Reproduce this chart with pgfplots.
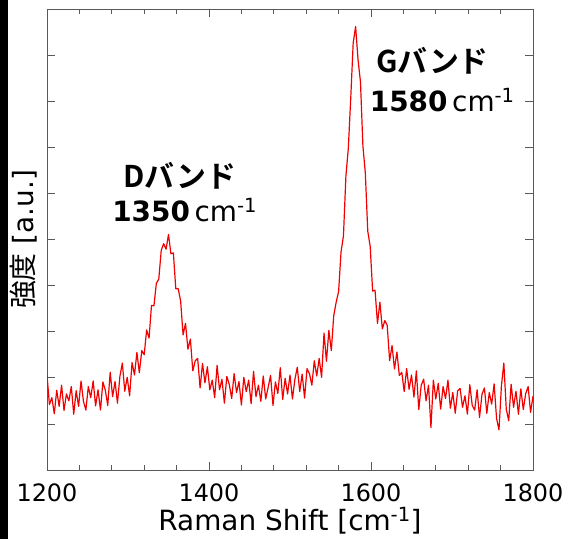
\documentclass[border=0pt]{standalone}
\usepackage{fontspec}
\setmainfont{DejaVu Sans}
\newfontfamily\jp{Noto Sans CJK JP}[BoldFont={Noto Sans CJK JP Bold}]
\usepackage{pgfplots}
\pgfplotsset{compat=1.18}

\begin{document}
\begin{tikzpicture}
\begin{axis}[
  scale only axis,
  width=486bp, height=461bp,
  xmin=1200, xmax=1800, ymin=0, ymax=10,
  xtick={1200,1400,1600,1800},
  minor x tick num=4,
  ytick={1,2,...,9},
  yticklabels={},
  tick align=inside,
  major tick length=8bp, minor tick length=5bp,
  axis line style={draw=black!65, line width=0.9bp},
  every tick/.style={draw=black!65, line width=0.8bp},
  /pgf/number format/assume math mode=true,
  /pgf/number format/1000 sep={},
  xticklabel style={font=\fontsize{24}{24}\selectfont, anchor=base, yshift=-31bp, inner sep=0pt},
  xlabel={Raman Shift [cm\textsuperscript{-1}]},
  xlabel style={font=\fontsize{28}{28}\selectfont, at={(axis description cs:0.5,-0.1323)}, anchor=base, inner sep=0pt},
  ylabel={{\jp 強度} [a.u.]},
  ylabel style={font=\fontsize{28}{28}\selectfont, at={(axis description cs:-0.0206,0.5)}, anchor=south, inner sep=0pt},
]
% Raman spectrum (step 3 cm^-1)
\addplot[color=red!95!black, line width=1.2bp, line join=round] coordinates {
 (1200,2.06)(1203,1.42)(1206,1.57)(1209,1.22)(1212,1.73)
 (1215,1.38)(1218,1.84)(1221,1.29)(1224,1.65)(1227,1.50)
 (1230,1.81)(1233,1.21)(1236,1.72)(1239,1.38)(1242,1.93)
 (1245,1.49)(1248,1.30)(1251,1.81)(1254,1.57)(1257,1.93)
 (1260,1.39)(1263,1.74)(1266,1.30)(1269,1.91)(1272,1.73)
 (1275,1.40)(1278,2.12)(1281,1.59)(1284,1.92)(1287,1.45)
 (1290,2.03)(1293,2.32)(1296,1.71)(1299,2.01)(1302,1.61)
 (1305,2.33)(1308,2.06)(1311,2.55)(1314,2.11)(1317,2.59)
 (1320,2.50)(1323,3.04)(1326,2.86)(1329,3.57)(1332,3.56)
 (1335,4.05)(1338,4.14)(1341,4.76)(1344,4.91)(1347,4.79)
 (1350,5.11)(1353,4.69)(1356,4.71)(1359,3.93)(1362,3.93)
 (1365,3.66)(1368,2.93)(1371,3.18)(1374,2.62)(1377,2.84)
 (1380,2.15)(1383,2.37)(1386,2.42)(1389,1.78)(1392,2.31)
 (1395,1.89)(1398,2.24)(1401,1.74)(1404,1.95)(1407,1.57)
 (1410,2.27)(1413,1.74)(1416,1.97)(1419,1.45)(1422,2.03)
 (1425,1.86)(1428,1.55)(1431,2.09)(1434,1.68)(1437,1.92)
 (1440,1.41)(1443,2.01)(1446,1.70)(1449,1.95)(1452,1.44)
 (1455,2.14)(1458,1.59)(1461,1.84)(1464,1.49)(1467,2.04)
 (1470,1.54)(1473,1.79)(1476,2.05)(1479,1.40)(1482,1.91)
 (1485,1.66)(1488,2.22)(1491,1.53)(1494,1.99)(1497,1.65)
 (1500,2.06)(1503,1.54)(1506,1.96)(1509,2.23)(1512,1.70)
 (1515,2.08)(1518,1.56)(1521,2.20)(1524,2.09)(1527,1.84)
 (1530,2.37)(1533,2.04)(1536,2.42)(1539,2.01)(1542,2.97)
 (1545,2.36)(1548,3.03)(1551,2.59)(1554,3.35)(1557,3.64)
 (1560,3.87)(1563,4.73)(1566,5.08)(1569,6.37)(1572,6.98)
 (1575,8.07)(1578,9.26)(1581,9.62)(1584,8.90)(1587,8.42)
 (1590,7.03)(1593,6.44)(1596,5.18)(1599,4.85)(1602,3.88)
 (1605,3.90)(1608,3.18)(1611,3.64)(1614,3.06)(1617,3.24)
 (1620,3.14)(1623,2.37)(1626,2.70)(1629,2.19)(1632,2.56)
 (1635,2.05)(1638,2.12)(1641,1.70)(1644,2.20)(1647,1.75)
 (1650,2.06)(1653,1.58)(1656,2.15)(1659,1.31)(1662,1.84)
 (1665,1.97)(1668,1.50)(1671,1.84)(1674,0.92)(1677,1.95)
 (1680,1.54)(1683,1.88)(1686,1.32)(1689,1.81)(1692,1.55)
 (1695,1.95)(1698,1.34)(1701,1.68)(1704,1.23)(1707,1.72)
 (1710,1.77)(1713,1.36)(1716,1.61)(1719,1.21)(1722,1.85)
 (1725,1.40)(1728,1.30)(1731,1.74)(1734,1.14)(1737,1.64)
 (1740,1.78)(1743,1.23)(1746,1.68)(1749,1.43)(1752,1.87)
 (1755,1.12)(1758,0.87)(1761,1.82)(1764,2.32)(1767,1.32)
 (1770,1.07)(1773,1.86)(1776,1.36)(1779,1.71)(1782,1.21)
 (1785,1.76)(1788,1.31)(1791,1.66)(1794,1.81)(1797,1.25)
 (1800,1.60)
};
\node[anchor=base, font=\fontsize{30}{30}\selectfont\jp\bfseries] at (axis cs:1364,6.12) {Dバンド};
\node[anchor=base, font=\fontsize{28}{28}\selectfont] at (axis cs:1370,5.38) {\textbf{1350}\,cm\textsuperscript{-1}};
\node[anchor=base, font=\fontsize{30}{30}\selectfont\jp\bfseries] at (axis cs:1676,8.63) {Gバンド};
\node[anchor=base, font=\fontsize{28}{28}\selectfont] at (axis cs:1688,7.77) {\textbf{1580}\,cm\textsuperscript{-1}};
\coordinate (sw) at (rel axis cs:0,0);
\end{axis}
\fill[black] ([shift={(-47bp,-69bp)}]sw) rectangle ++(8bp,539bp);
\pgfresetboundingbox
\path[use as bounding box] ([shift={(-47bp,-69bp)}]sw) rectangle ++(582bp,539bp);
\end{tikzpicture}
\end{document}
